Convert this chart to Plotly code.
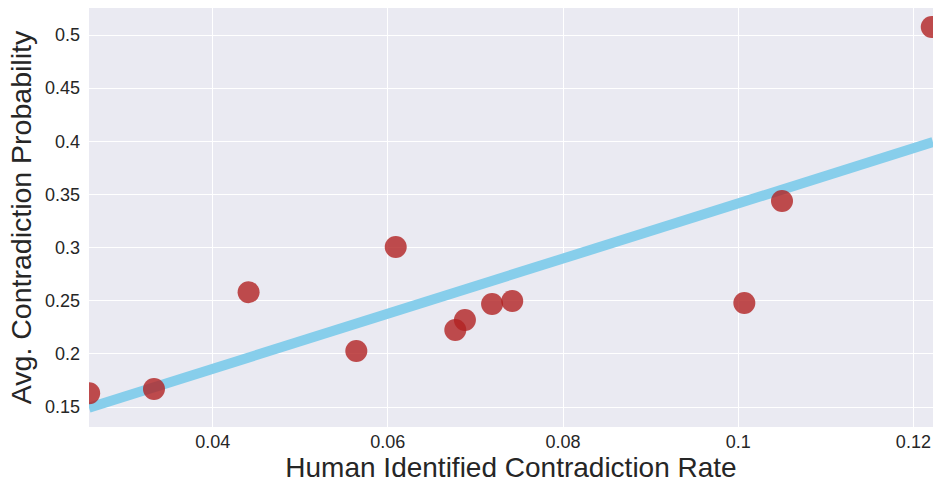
import numpy as np
import plotly.graph_objects as go

# Human-identified contradiction rate vs. model's average contradiction probability
human_rate = [0.0259, 0.0333, 0.0441, 0.0564, 0.0609, 0.0677, 0.0688,
              0.0719, 0.0742, 0.1007, 0.1050, 0.1221]
avg_prob = [0.163, 0.167, 0.258, 0.2027, 0.3006, 0.2225, 0.2319,
            0.247, 0.2498, 0.2479, 0.3439, 0.5075]

x_range = [0.02588, 0.12224]
y_range = [0.1312, 0.5254]

# Least-squares fit drawn across the full x range
slope, intercept = np.polyfit(human_rate, avg_prob, 1)
fit_x = np.array(x_range)
fit_y = slope * fit_x + intercept

fig = go.Figure()
fig.add_trace(go.Scatter(
    x=fit_x, y=fit_y, mode="lines",
    line=dict(color="#87CEEB", width=10),
    hoverinfo="skip", showlegend=False,
))
fig.add_trace(go.Scatter(
    x=human_rate, y=avg_prob, mode="markers",
    marker=dict(color="rgba(178,34,34,0.8)", size=22, line=dict(width=0)),
    showlegend=False,
))

font_family = "Liberation Sans, Arial, sans-serif"
fig.update_layout(
    width=933, height=483,
    margin=dict(l=89, r=0, t=8, b=56),
    paper_bgcolor="white",
    plot_bgcolor="#EAEAF2",
    font=dict(family=font_family, color="#262626", size=18),
    xaxis=dict(
        range=x_range, dtick=0.02, tick0=0,
        showgrid=True, gridcolor="white", gridwidth=1.3,
        zeroline=False, showline=False, ticks="",
        ticklabelstandoff=2,
        tickfont=dict(size=18, color="#262626"),
        title=dict(text="Human Identified Contradiction Rate",
                   font=dict(size=28, color="#262626"), standoff=3),
    ),
    yaxis=dict(
        range=y_range, dtick=0.05, tick0=0,
        showgrid=True, gridcolor="white", gridwidth=1.3,
        zeroline=False, showline=False, ticks="",
        ticklabelstandoff=8,
        tickfont=dict(size=18, color="#262626"),
        title=dict(text="Avg. Contradiction Probability",
                   font=dict(size=28.5, color="#262626"), standoff=4),
    ),
)

fig.write_html("out.html")
